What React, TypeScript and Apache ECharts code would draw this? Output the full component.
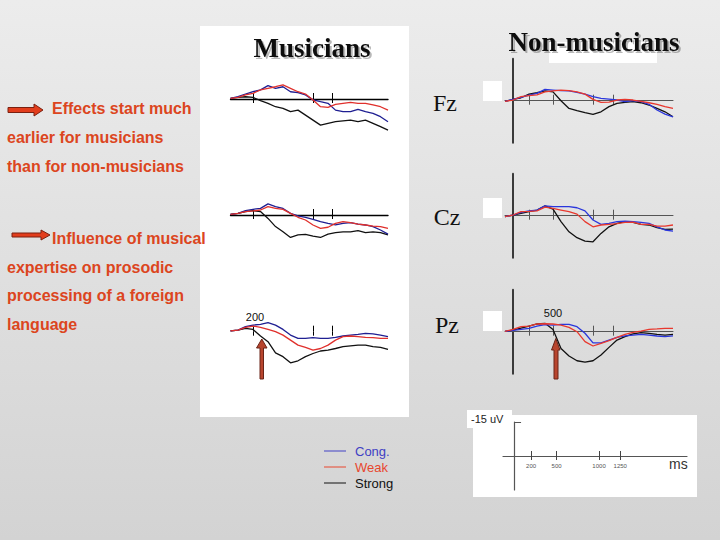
import React, { useEffect, useRef } from "react";
import * as echarts from "echarts";

// time axis (ms) shared by every trace
const times = [-100, 0, 100, 200, 300, 400, 500, 600, 700, 800, 900, 1000, 1100, 1200, 1300, 1400, 1500, 1600, 1700, 1800, 1900, 2000];
const conditions = ["Cong.", "Weak", "Strong"];
const electrodes = ["Fz", "Cz", "Pz"];
const groups = ["Musicians", "Non-musicians"];
const musicianTicks = [200, 1000, 1250];
const nonMusicianTicks = [200, 500, 1000, 1250];
const scaleTicks = [200, 500, 1000, 1250];
const scaleAmplitude = -15;

// amplitudes in µV (negative plotted upwards)
const musFzCong = [-0.3, -1.0, -2.2, -3.2, -4.0, -5.9, -4.7, -5.4, -3.2, -2.8, -1.8, 0.4, 1.2, 1.9, 4.9, 5.6, 5.6, 4.6, 5.6, 6.3, 7.8, 10.0];
const musFzWeak = [-0.3, -0.7, -1.8, -2.5, -4.0, -4.7, -5.4, -6.2, -4.7, -3.2, -2.2, 0.4, 3.4, 3.7, 2.4, 1.9, 1.5, 1.9, 1.9, 2.6, 3.4, 4.9];
const musFzStrong = [-0.3, -0.7, -1.0, -0.7, 0.7, 1.9, 3.4, 4.1, 5.6, 4.9, 7.1, 9.3, 11.5, 10.7, 10.0, 9.6, 9.3, 10.0, 9.3, 10.7, 12.2, 13.7];

const musCzCong = [-0.3, -0.7, -1.9, -2.5, -2.9, -4.9, -3.7, -2.9, -0.7, 0.4, 1.0, 1.9, 2.9, 3.7, 4.4, 3.7, 3.4, 4.0, 4.4, 5.1, 6.6, 8.4];
const musCzWeak = [-0.3, -0.7, -1.5, -1.8, -2.2, -3.7, -2.9, -2.5, -0.7, 1.0, 2.2, 4.4, 5.9, 5.4, 3.7, 2.9, 3.4, 4.0, 4.4, 4.9, 5.1, 5.9];
const musCzStrong = [-0.3, -0.7, -1.5, -1.9, -1.5, 1.5, 5.1, 7.4, 9.9, 8.8, 8.5, 9.3, 9.9, 8.4, 7.8, 7.4, 7.4, 6.9, 7.8, 7.4, 7.8, 8.8];

const musPzCong = [-0.4, -0.7, -2.2, -2.9, -3.2, -4.0, -2.9, -1.0, 1.5, 2.9, 2.9, 2.6, 2.9, 2.9, 2.5, 1.9, 1.5, 1.2, 0.7, 1.0, 1.5, 2.2];
const musPzWeak = [-0.4, -0.7, -1.9, -2.5, -1.9, -1.0, 0, 1.5, 3.7, 5.9, 6.9, 8.1, 7.4, 5.9, 3.7, 2.2, 1.9, 2.2, 2.5, 2.6, 2.9, 2.9];
const musPzStrong = [-0.4, -0.7, -1.5, -1.0, 1.9, 4.4, 9.3, 11.0, 13.7, 12.8, 11.0, 9.6, 8.5, 8.1, 7.4, 6.6, 6.2, 5.9, 5.9, 6.6, 6.9, 7.8];

const nonFzCong = [0.3, -0.6, -1.5, -2.5, -3.2, -5.0, -4.7, -4.4, -4.3, -3.7, -2.9, -1.8, -1.0, -0.7, -0.3, 0.4, 0, 0.4, 1.6, 4.1, 5.9, 7.1];
const nonFzWeak = [0.3, -0.3, -1.8, -2.2, -2.6, -3.9, -4.3, -4.7, -4.4, -3.9, -2.9, -0.6, 0.7, 0.6, -0.3, -0.6, -0.3, 0.3, 0.9, 1.6, 2.6, 3.4];
const nonFzStrong = [0.3, -0.6, -1.3, -2.9, -3.5, -4.3, -3.9, 0, 3.4, 4.4, 5.3, 6.0, 4.9, 2.6, 1.2, 0.7, 0.4, 0.9, 1.9, 3.4, 4.9, 7.1];

const nonCzCong = [0.4, -0.3, -1.5, -2.1, -2.5, -4.3, -4.0, -4.0, -4.0, -3.5, -2.1, 1.9, 3.8, 3.4, 2.6, 2.4, 2.6, 2.9, 3.4, 4.9, 6.3, 6.8];
const nonCzWeak = [0.4, -0.3, -1.8, -1.9, -2.1, -3.8, -3.2, -2.5, -1.8, -0.7, 2.6, 4.9, 4.1, 3.8, 3.5, 2.9, 2.8, 3.8, 3.8, 4.6, 4.6, 4.1];
const nonCzStrong = [0.4, -0.3, -1.0, -1.8, -2.5, -4.3, -2.9, 2.6, 7.1, 9.7, 11.2, 11.5, 7.8, 4.9, 3.4, 2.6, 2.9, 3.8, 4.1, 5.3, 6.0, 5.9];

const nonPzCong = [-0.1, -0.6, -1.0, -1.5, -2.5, -3.1, -2.9, -3.2, -3.2, -2.2, 0.7, 4.9, 4.9, 3.7, 2.5, 1.8, 1.5, 1.2, 1.5, 1.9, 2.2, 1.8];
const nonPzWeak = [-0.1, -1.0, -2.2, -2.5, -3.4, -3.5, -3.4, -2.9, -1.9, 0, 4.4, 6.3, 5.1, 3.9, 2.5, 1.2, 0.3, -0.3, -1.0, -1.2, -1.5, -1.5];
const nonPzStrong = [-0.1, -0.7, -1.6, -2.5, -3.4, -3.7, -1.0, 7.4, 10.7, 12.8, 13.4, 12.8, 10.3, 6.9, 3.7, 2.2, 1.0, 0.4, 0.7, 1.2, 1.5, 1.2];

const panelData = [
  [musFzCong, musFzWeak, musFzStrong],
  [musCzCong, musCzWeak, musCzStrong],
  [musPzCong, musPzWeak, musPzStrong],
  [nonFzCong, nonFzWeak, nonFzStrong],
  [nonCzCong, nonCzWeak, nonCzStrong],
  [nonPzCong, nonPzWeak, nonPzStrong],
];

// layout (pixels)
const PX_PER_UV = 2.27;
const Y_RANGE = 18.5;
const panelLayout = [
  { left: 230.5, width: 157.5, base: 99, group: 0, showBase: true },
  { left: 230.5, width: 157.5, base: 215, group: 0, showBase: true },
  { left: 230.5, width: 157.5, base: 331.7, group: 0, showBase: false },
  { left: 505, width: 168, base: 100.7, group: 1, showBase: true },
  { left: 505, width: 168, base: 215.7, group: 1, showBase: true },
  { left: 505, width: 168, base: 331.7, group: 1, showBase: true },
];
const condColors = [
  ["#1f1f92", "#e0302c", "#111111"],
  ["#2a36dc", "#e8382e", "#111111"],
];
const legendColors = ["#4040c4", "#e8472e", "#111111"];
const RED_TEXT = "#dc4520";

export default function App() {
  const ref = useRef<HTMLDivElement>(null);
  useEffect(() => {
    if (!ref.current) return;
    const chart = echarts.init(ref.current, undefined, { renderer: "svg" });

    const grids: any[] = [];
    const xAxes: any[] = [];
    const yAxes: any[] = [];
    const series: any[] = [];

    panelLayout.forEach((p, i) => {
      const h = Y_RANGE * 2 * PX_PER_UV;
      grids.push({ left: p.left, width: p.width, top: p.base - h / 2, height: h });
      const ticks = p.group === 0 ? musicianTicks : nonMusicianTicks;
      const baseColor = p.group === 0 ? "#000" : "#555";
      // downward ticks + baseline
      xAxes.push({
        type: "value", gridIndex: i, min: -100, max: 2000, position: "bottom",
        axisLine: { show: true, onZero: true, onZeroAxisIndex: i, lineStyle: { color: baseColor, width: p.group === 0 ? 1.4 : 1, opacity: p.showBase ? 1 : 0 } },
        axisTick: { show: true, customValues: ticks, length: 4, lineStyle: { color: baseColor, width: 1 } },
        axisLabel: { show: false }, splitLine: { show: false },
      });
      // upward ticks
      xAxes.push({
        type: "value", gridIndex: i, min: -100, max: 2000, position: "top",
        axisLine: { show: true, onZero: true, onZeroAxisIndex: i, lineStyle: { opacity: 0 } },
        axisTick: { show: true, inside: false, customValues: ticks, length: 6, lineStyle: { color: baseColor, width: 1 } },
        axisLabel: { show: false }, splitLine: { show: false },
      });
      yAxes.push({
        type: "value", gridIndex: i, min: -Y_RANGE, max: Y_RANGE, inverse: true,
        axisLine: { show: p.group === 1, onZero: true, onZeroAxisIndex: i * 2, lineStyle: { color: "#3a3a3a", width: 2 } },
        axisTick: { show: false }, axisLabel: { show: false }, splitLine: { show: false },
      });
      const order = [2, 0, 1];
      order.forEach((c) => {
        series.push({
          type: "line",
          name: conditions[c],
          xAxisIndex: i * 2,
          yAxisIndex: i,
          data: times.map((t, k) => [t, panelData[i][c][k]]),
          showSymbol: false,
          symbol: "none",
          silent: true,
          lineStyle: { color: condColors[p.group][c], width: 1.3 },
          itemStyle: { color: condColors[p.group][c] },
          emphasis: { disabled: true },
        });
      });
    });

    // amplitude / time scale: upper half (-15..0 µV) carries the time axis
    grids.push({ left: 503, width: 184, top: 422, height: 34 });
    xAxes.push({
      type: "value", gridIndex: 6, min: -130, max: 2035, position: "bottom",
      axisLine: { show: true, onZero: false, lineStyle: { color: "#555", width: 1.2 } },
      axisTick: { show: true, customValues: scaleTicks, length: 4, lineStyle: { color: "#444" } },
      axisLabel: {
        show: true, customValues: scaleTicks, fontSize: 6, color: "#555", margin: 7,
        fontFamily: "Liberation Sans", formatter: (v: number) => String(v),
      },
      splitLine: { show: false },
    });
    xAxes.push({
      type: "value", gridIndex: 6, min: -130, max: 2035, position: "top",
      axisLine: { show: true, onZero: true, onZeroAxisIndex: 6, lineStyle: { opacity: 0 } },
      axisTick: { show: true, inside: false, customValues: scaleTicks, length: 5, lineStyle: { color: "#444" } },
      axisLabel: { show: false }, splitLine: { show: false },
    });
    yAxes.push({
      type: "value", gridIndex: 6, min: scaleAmplitude, max: 0, inverse: true,
      axisLine: { show: true, onZero: true, onZeroAxisIndex: 12, lineStyle: { color: "#555", width: 1.2 } },
      axisTick: { show: true, inside: true, customValues: [scaleAmplitude], length: 7, lineStyle: { color: "#555" } },
      axisLabel: { show: false }, splitLine: { show: false },
    });
    // lower half (0..15 µV): only the continuation of the amplitude axis
    grids.push({ left: 503, width: 184, top: 456, height: 34 });
    xAxes.push({
      type: "value", gridIndex: 7, min: -130, max: 2035, position: "bottom",
      axisLine: { show: true, onZero: false, lineStyle: { opacity: 0 } },
      axisTick: { show: false }, axisLabel: { show: false }, splitLine: { show: false },
    });
    yAxes.push({
      type: "value", gridIndex: 7, min: 0, max: -scaleAmplitude, inverse: true,
      axisLine: { show: true, onZero: true, onZeroAxisIndex: 14, lineStyle: { color: "#555", width: 1.2 } },
      axisTick: { show: false }, axisLabel: { show: false }, splitLine: { show: false },
    });

    const rect = (x: number, y: number, w: number, h: number, fill = "#fff") => ({
      type: "rect", z: -10, silent: true, shape: { x, y, width: w, height: h }, style: { fill },
    });
    const txt = (text: string, x: number, y: number, font: string, fill: string, align = "left", extra: any = {}) => ({
      type: "text", z: 50, silent: true,
      style: { text, x, y, font, fill, align, textAlign: align, verticalAlign: "middle", textVerticalAlign: "middle", ...extra },
    });
    const poly = (points: number[][], fill: string, stroke: string) => ({
      type: "polygon", z: 40, silent: true, shape: { points }, style: { fill, stroke, lineWidth: 1 },
    });
    const titleShadow = { textShadowColor: "rgba(0,0,0,0.28)", textShadowOffsetX: 2, textShadowOffsetY: 2, textShadowBlur: 1 };
    const leftFont = "bold 16px 'Liberation Sans', Arial, sans-serif";

    const graphic: any[] = [
      rect(200, 26, 209, 391),
      rect(549, 42, 108, 21),
      rect(483, 81, 19, 20),
      rect(483, 198, 19, 20),
      rect(483, 311, 19, 20),
      rect(473, 415, 224, 82),
      rect(467, 410, 45, 18),
      txt(groups[0], 312, 48, "bold 27px 'Liberation Serif', 'Times New Roman', serif", "#111", "center", titleShadow),
      txt(groups[1], 594, 42, "bold 27px 'Liberation Serif', 'Times New Roman', serif", "#111", "center", titleShadow),
      txt(electrodes[0], 445, 103, "24px 'Liberation Serif', 'Times New Roman', serif", "#111", "center"),
      txt(electrodes[1], 447, 217, "24px 'Liberation Serif', 'Times New Roman', serif", "#111", "center"),
      txt(electrodes[2], 447, 325, "24px 'Liberation Serif', 'Times New Roman', serif", "#111", "center"),
      txt("Effects start much", 52, 108, leftFont, RED_TEXT),
      txt("earlier for musicians", 7, 137, leftFont, RED_TEXT),
      txt("than for non-musicians", 7, 166, leftFont, RED_TEXT),
      txt("Influence of musical", 52, 238, leftFont, RED_TEXT),
      txt("expertise on prosodic", 7, 267, leftFont, RED_TEXT),
      txt("processing of a foreign", 7, 295, leftFont, RED_TEXT),
      txt("language", 7, 324, leftFont, RED_TEXT),
      txt(String(musicianTicks[0]), 255, 317, "11px 'Liberation Sans', Arial, sans-serif", "#111", "center"),
      txt(String(nonMusicianTicks[1]), 553, 313, "11px 'Liberation Sans', Arial, sans-serif", "#111", "center"),
      txt(`${scaleAmplitude} uV`, 471, 419, "11px 'Liberation Sans', Arial, sans-serif", "#222"),
      txt("ms", 669, 464, "14px 'Liberation Sans', Arial, sans-serif", "#333"),
      poly([[8, 107.5], [34, 107.5], [34, 104], [43, 110], [34, 116], [34, 112.5], [8, 112.5]], "#e23d1c", "#7a2010"),
      poly([[12, 233], [41, 233], [41, 230], [50, 235], [41, 240], [41, 237], [12, 237]], "#e23d1c", "#7a2010"),
      poly([[260, 379], [260, 348], [256.5, 348], [261.8, 339], [267, 348], [263.5, 348], [263.5, 379]], "#b8452e", "#6a2418"),
      poly([[554, 379], [554, 350], [551.5, 350], [555.8, 338.5], [560, 350], [558, 350], [558, 379]], "#b8452e", "#6a2418"),
    ];

    chart.setOption({
      animation: false,
      grid: grids,
      xAxis: xAxes,
      yAxis: yAxes,
      series,
      legend: {
        orient: "vertical",
        left: 324,
        top: 444,
        padding: 0,
        itemGap: 2,
        itemWidth: 22,
        itemHeight: 1,
        selectedMode: false,
        data: conditions.map((c, i) => ({
          name: c,
          icon: "rect",
          itemStyle: { color: legendColors[i] },
          textStyle: { color: legendColors[i], fontSize: 13, lineHeight: 14, fontFamily: "'Liberation Sans', Arial, sans-serif", padding: [0, 0, 0, 4] },
        })),
      },
      graphic,
    });
    return () => chart.dispose();
  }, []);

  return (
    <div
      ref={ref}
      style={{
        position: "fixed",
        left: 0,
        top: 0,
        width: 720,
        height: 540,
        background: "linear-gradient(#ececec, #d3d3d3)",
      }}
    />
  );
}
